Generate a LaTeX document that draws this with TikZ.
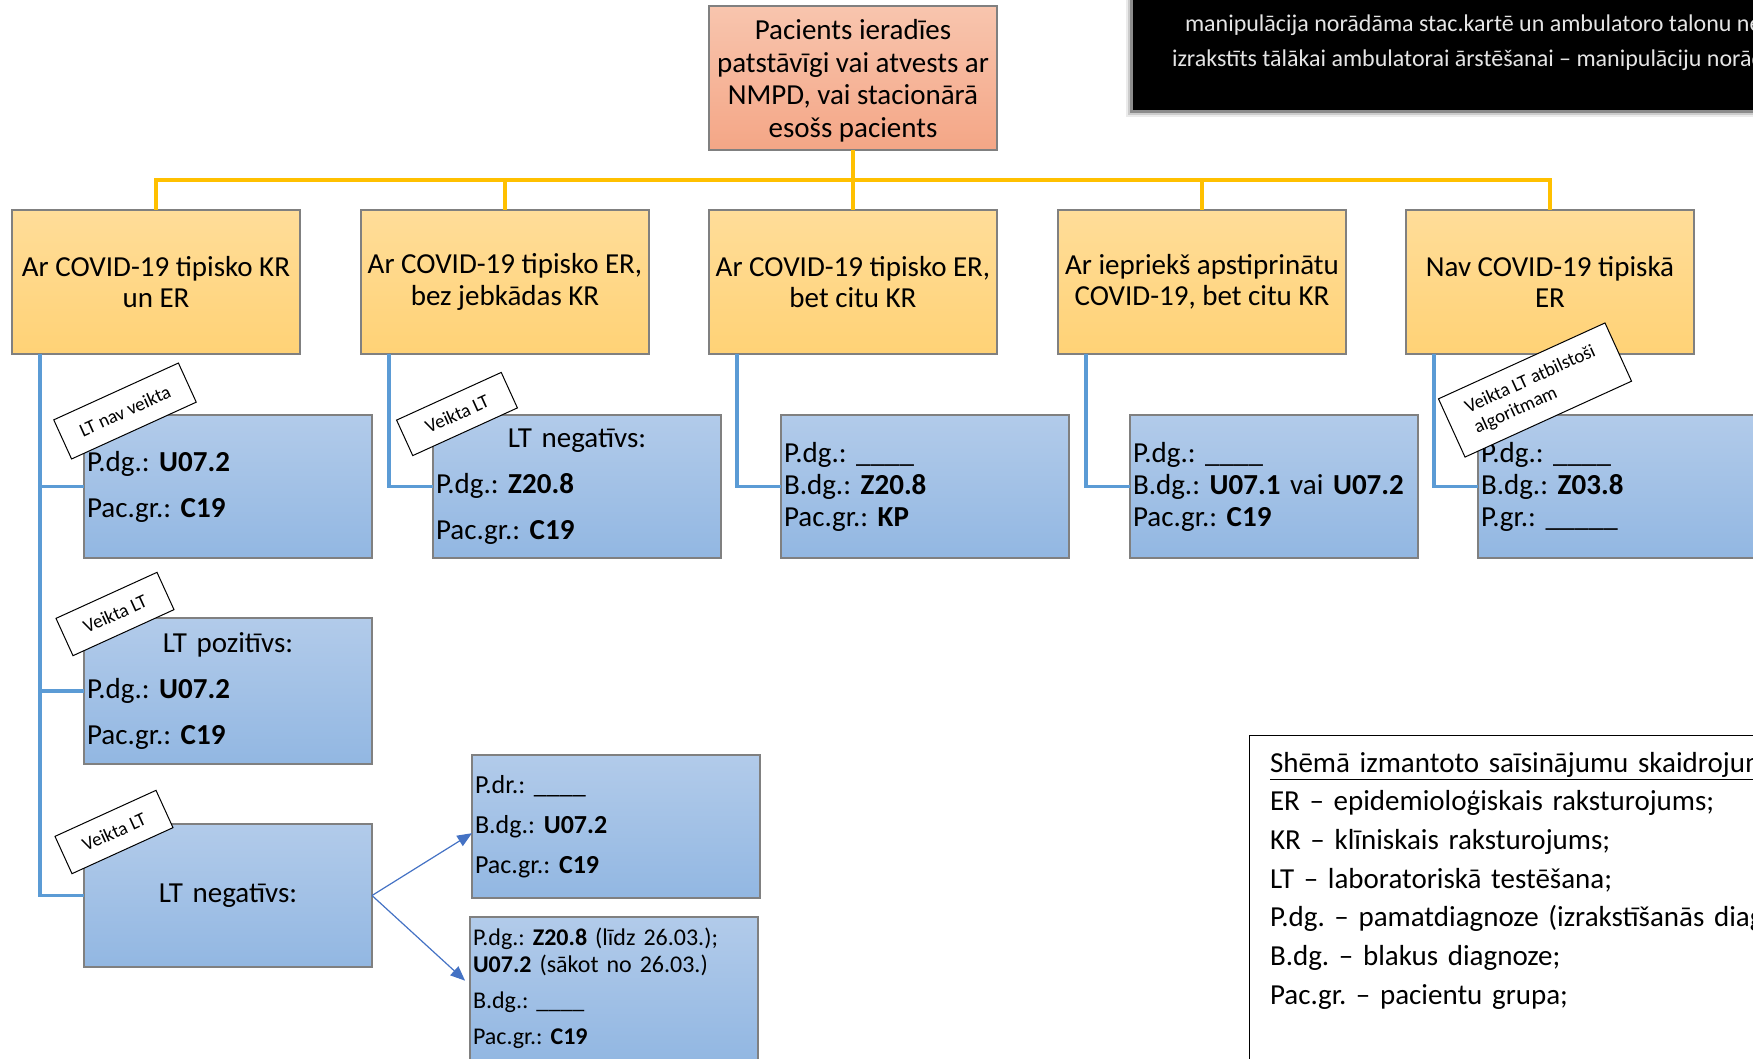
\documentclass[tikz,border=0pt]{standalone}
\usepackage{fontspec}
\setmainfont{Carlito}
\usetikzlibrary{arrows.meta,calc}
\definecolor{busc}{RGB}{255,192,0}
\definecolor{blinec}{RGB}{91,155,213}
\definecolor{arrc}{RGB}{68,114,196}
\definecolor{boxline}{RGB}{128,128,128}
\definecolor{yT}{RGB}{255,221,153}
\definecolor{yB}{RGB}{255,210,118}
\definecolor{bT}{RGB}{178,203,234}
\definecolor{bB}{RGB}{146,183,226}
\definecolor{sT}{RGB}{248,197,174}
\definecolor{sB}{RGB}{244,166,134}
\newcommand\PX[1]{#1*0.75pt}
\frenchspacing
\begin{document}
\frenchspacing
\begin{tikzpicture}[x=0.75pt,y=-0.75pt,
  every node/.style={inner sep=0pt,outer sep=0pt},
  topbox/.style={draw=boxline,line width=1pt,top color=sT,bottom color=sB,minimum width=\PX{288},minimum height=\PX{144},align=center,anchor=north west,font=\fontsize{21.75pt}{24.4pt}\selectfont},
  ybox/.style={draw=boxline,line width=1pt,top color=yT,bottom color=yB,minimum width=\PX{288},minimum height=\PX{144},align=center,anchor=north west,font=\fontsize{21.75pt}{23.6pt}\selectfont},
  bbox/.style={draw=boxline,line width=1pt,top color=bT,bottom color=bB,minimum width=\PX{288},minimum height=\PX{143},text width=\PX{282},inner xsep=\PX{3},align=left,anchor=north west},
  wide/.style={font=\fontsize{21.75pt}{34.5pt}\selectfont},
  tight/.style={font=\fontsize{21.75pt}{24pt}\selectfont},
  tag/.style={draw=black,line width=0.75pt,fill=white,rotate=24.5,align=center,font=\fontsize{14.25pt}{16.5pt}\selectfont},
  ylink/.style={draw=busc,line width=2.5pt},
  blink/.style={draw=blinec,line width=2.5pt},
  arr/.style={draw=arrc,line width=0.9pt,-{Triangle[length=11pt,width=9pt]}},
  notetext/.style={text=white!90!black,anchor=base west,font=\fontsize{18pt}{20pt}\selectfont}
]
\useasboundingbox (0,0) rectangle (1753,1058);
\clip (0,0) rectangle (1753,1058);

% black note box with soft shadow
\fill[black!8] (1126,-10) rectangle (1770,117);
\fill[black!20] (1128,-10) rectangle (1770,115);
\fill[black!45] (1130,-10) rectangle (1770,113);
\node[fill=black,minimum width=\PX{660},minimum height=\PX{130},anchor=south west] (note) at (1133,110) {};
\node[notetext] (note1) at (1185,31) {manipulācija norādāma stac.kartē un ambulatoro talonu ne};
\node[notetext] (note2) at (1172,66) {izrakstīts tālākai ambulatorai ārstēšanai – manipulāciju norād};

% top box
\node[topbox] (top) at (709,6) {\rule{0pt}{19pt}Pacients ieradīes\\patstāvīgi vai atvests ar\\NMPD, vai stacionārā\\esošs pacients};

% yellow boxes
\node[ybox] (y1) at (12,210) {Ar COVID-19 tipisko KR\\un ER};
\node[ybox] (y2) at (361,210) {Ar COVID-19 tipisko ER,\\bez jebkādas KR};
\node[ybox] (y3) at (709,210) {Ar COVID-19 tipisko ER,\\bet citu KR};
\node[ybox] (y4) at (1058,210) {Ar iepriekš apstiprinātu\\COVID-19, bet citu KR};
\node[ybox] (y5) at (1406,210) {Nav COVID-19 tipiskā\\ER};

% yellow bus
\coordinate (bus) at (853,180);
\draw[ylink] (top.south) -- (bus);
\foreach \k in {1,...,5} {\draw[ylink] (bus) -| (y\k.north);}

% blue boxes row 1
\node[bbox,wide] (b1) at (84,415) {P.dg.: \textbf{U07.2}\\Pac.gr.: \textbf{C19}};
\node[bbox,wide] (b2) at (433,415) {\makebox[\linewidth]{LT negatīvs:}\\P.dg.: \textbf{Z20.8}\\Pac.gr.: \textbf{C19}};
\node[bbox,tight] (b3) at (781,415) {P.dg.: \_\_\_\_\\B.dg.: \textbf{Z20.8}\\Pac.gr.: \textbf{KP}};
\node[bbox,tight] (b4) at (1130,415) {P.dg.: \_\_\_\_\\B.dg.: \textbf{U07.1} vai \textbf{U07.2}\\Pac.gr.: \textbf{C19}};
\node[bbox,tight] (b5) at (1478,415) {P.dg.: \_\_\_\_\\B.dg.: \textbf{Z03.8}\\P.gr.: \_\_\_\_\_};

% left column lower boxes
\node[bbox,wide,minimum height=\PX{146}] (pos) at (84,618) {\makebox[\linewidth]{LT pozitīvs:}\\P.dg.: \textbf{U07.2}\\Pac.gr.: \textbf{C19}};
\node[bbox,wide,align=center] (neg) at (84,824) {LT negatīvs:};

% result boxes
\node[bbox,minimum width=\PX{287},font=\fontsize{19.5pt}{30pt}\selectfont] (ra) at (472,755) {P.dr.: \_\_\_\_\\B.dg.: \textbf{U07.2}\\Pac.gr.: \textbf{C19}};
\node[bbox,font=\fontsize{18pt}{20.25pt}\selectfont] (rb) at (470,917) {P.dg.: \textbf{Z20.8} (līdz 26.03.);\\\textbf{U07.2} (sākot no 26.03.)\\[6.75pt]B.dg.: \_\_\_\_\\[6.75pt]Pac.gr.: \textbf{C19}};

% blue connectors
\foreach \k in {1,...,5} {\draw[blink] ([xshift=21pt]y\k.south west) |- (b\k.west);}
\draw[blink] ([xshift=21pt]y1.south west) |- (pos.west);
\draw[blink] ([xshift=21pt]y1.south west) |- (neg.west);

% arrows
\draw[arr] (neg.east) -- ([yshift=-5pt]ra.west);
\draw[arr,shorten >=5pt] (neg.east) -- ([yshift=2.5pt]rb.west);

% tags
\node[tag,minimum width=\PX{137},minimum height=\PX{43}] (t1) at (125,411) {LT nav veikta};
\node[tag,minimum width=\PX{115},minimum height=\PX{39}] (t2) at (457,414) {Veikta LT};
\node[tag,minimum width=\PX{111},minimum height=\PX{41}] (t3) at (115,614) {Veikta LT};
\node[tag,minimum width=\PX{111},minimum height=\PX{41}] (t4) at (114,832) {Veikta LT};
\node[tag,minimum width=\PX{183},minimum height=\PX{64},align=left] (t5) at (1535,390) {Veikta LT atbilstoši\\algoritmam};

% legend
\node[draw=black,line width=0.75pt,minimum width=\PX{600},minimum height=\PX{400},anchor=north west] (legend) at (1249,735) {};
\node[anchor=base west,text width=\PX{600},align=left,font=\fontsize{21.75pt}{29pt}\selectfont] (legtext) at (1270,772) {\underline{Shēmā izmantoto saīsinājumu skaidrojum}\\ER – epidemioloģiskais raksturojums;\\KR – klīniskais raksturojums;\\LT – laboratoriskā testēšana;\\P.dg. – pamatdiagnoze (izrakstīšanās diag\\B.dg. – blakus diagnoze;\\Pac.gr. – pacientu grupa;};
\end{tikzpicture}
\end{document}
